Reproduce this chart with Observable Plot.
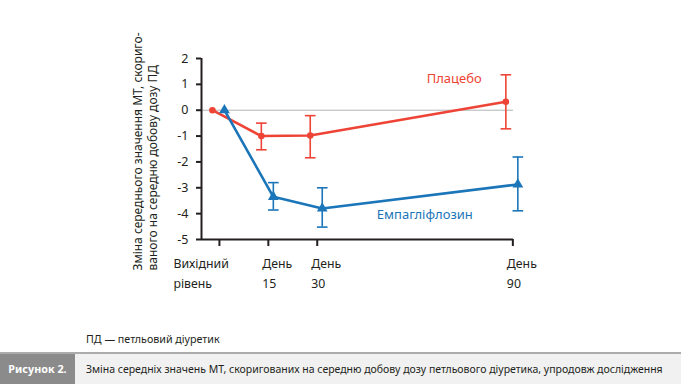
<!DOCTYPE html>
<html>
<head>
<meta charset="utf-8">
<script src="https://cdn.jsdelivr.net/npm/d3@7"></script>
<script src="https://cdn.jsdelivr.net/npm/@observablehq/plot@0.6"></script>
<style>
  html, body { margin: 0; padding: 0; background: #fff; }
  body { width: 681px; height: 384px; position: relative; overflow: hidden; font-family: "Noto Sans", sans-serif; color: #231f20; }
  #chart { position: absolute; left: 0; top: 0; }
  #note { position: absolute; left: 86px; top: 332px; font-size: 10.7px; line-height: 14px; }
  #capline { position: absolute; left: 0; top: 352px; width: 681px; height: 2px; background: #acacac; }
  #caption { position: absolute; left: 0; top: 354px; width: 681px; height: 30px; background: #f1f1f1; }
  #capnum { position: absolute; left: 0; top: 0; width: 75px; height: 30px; background: #8b8b8b; color: #fff; font-weight: bold; font-size: 10.8px; line-height: 30px; text-align: center; }
  #captext { position: absolute; left: 86px; top: 0; line-height: 30px; font-size: 10.5px; white-space: nowrap; }
</style>
</head>
<body>
<div id="chart"></div>
<div id="note">ПД — петльовий діуретик</div>
<div id="capline"></div>
<div id="caption"><div id="capnum">Рисунок 2.</div><div id="captext">Зміна середніх значень МТ, скоригованих на середню добову дозу петльового діуретика, упродовж дослідження</div></div>
<script>
const days = [0, 15, 30, 90];
const tickDays = [0, 15, 30, 90];
const tickLabelsTop = ["Вихідний", "День", "День", "День"];
const tickLabelsBottom = ["рівень", "15", "30", "90"];
const placeboMean = [0, -1.0, -0.98, 0.33];
const placeboLow = [null, -1.53, -1.84, -0.72];
const placeboHigh = [null, -0.5, -0.21, 1.37];
const empaMean = [0, -3.35, -3.8, -2.87];
const empaLow = [null, -3.86, -4.52, -3.89];
const empaHigh = [null, -2.8, -3.0, -1.81];
const yTicks = [2, 1, 0, -1, -2, -3, -4, -5];
const seriesNames = ["Плацебо", "Емпагліфлозин"];
const yLabel = "Зміна середнього значення МТ, скориго-\nваного на середню добову дозу ПД";

const red = "#ee4436";
const blue = "#1b75b9";
const ink = "#231f20";

const placebo = days.map((d, i) => ({day: d, y: placeboMean[i], lo: placeboLow[i], hi: placeboHigh[i]}));
const empa = days.map((d, i) => ({day: d, y: empaMean[i], lo: empaLow[i], hi: empaHigh[i]}));
const placeboErr = placebo.filter(d => d.lo != null);
const empaErr = empa.filter(d => d.lo != null);
const ticks = tickDays.map((d, i) => ({day: d, top: tickLabelsTop[i], bottom: tickLabelsBottom[i]}));

const capSymbol = {
  draw(ctx, size) {
    const w = Math.sqrt(size);
    ctx.moveTo(-w, 0);
    ctx.lineTo(w, 0);
  }
};

function errorMarks(data, color, dx) {
  return [
    Plot.ruleX(data, {x: "day", y1: "lo", y2: "hi", stroke: color, strokeWidth: 1.6, dx}),
    Plot.dot(data, {x: "day", y: "lo", symbol: capSymbol, r: 3, stroke: color, strokeWidth: 1.6, fill: "none", dx}),
    Plot.dot(data, {x: "day", y: "hi", symbol: capSymbol, r: 3, stroke: color, strokeWidth: 1.6, fill: "none", dx})
  ];
}

const xMin = -5.5, xMax = 90.2;
const baseTick = ticks.filter(d => d.day === 0);
const dayTicks = ticks.filter(d => d.day !== 0);

const chart = Plot.plot({
  width: 681,
  height: 330,
  marginLeft: 201,
  marginRight: 168,
  marginTop: 58,
  marginBottom: 91,
  style: {fontFamily: "Noto Sans, sans-serif", color: ink, background: "transparent"},
  x: {domain: [xMin, xMax], axis: null},
  y: {domain: [-5, 2], axis: null},
  marks: [
    Plot.ruleY([0], {x1: xMin, x2: xMax, stroke: "#b3b3b3", strokeWidth: 1}),
    // Y axis
    Plot.axisY({ticks: yTicks, tickSize: 5, tickPadding: 8, stroke: ink, strokeWidth: 2, fontSize: 12.5, fill: ink,
      tickFormat: d => d < 0 ? "-" + Math.abs(d) : String(d), label: null}),
    Plot.ruleX([xMin], {y1: -5, y2: 2, stroke: ink, strokeWidth: 2}),
    // X axis
    Plot.ruleY([-5], {x1: xMin, x2: xMax, stroke: ink, strokeWidth: 2}),
    Plot.axisX({ticks: tickDays, tickSize: 7, stroke: ink, strokeWidth: 2, tickFormat: () => "", label: null}),
    Plot.text(baseTick, {x: "day", frameAnchor: "bottom", text: "top", textAnchor: "start", dx: -46, dy: 28, fontSize: 12.3, fill: ink}),
    Plot.text(baseTick, {x: "day", frameAnchor: "bottom", text: "bottom", textAnchor: "start", dx: -46, dy: 48, fontSize: 12.3, fill: ink}),
    Plot.text(dayTicks, {x: "day", frameAnchor: "bottom", text: "top", textAnchor: "start", dx: -6, dy: 28, fontSize: 12.3, fill: ink}),
    Plot.text(dayTicks, {x: "day", frameAnchor: "bottom", text: "bottom", textAnchor: "start", dx: -6, dy: 48, fontSize: 12.3, fill: ink}),
    // Y label
    Plot.text([yLabel], {frameAnchor: "bottom-left", rotate: -90, textAnchor: "start", lineAnchor: "middle", lineHeight: 1.3, dx: -57, dy: 31, fontSize: 12, fill: ink}),
    // Placebo
    ...errorMarks(placeboErr, red, -7),
    Plot.line(placebo, {x: "day", y: "y", stroke: red, strokeWidth: 2.6, dx: -7}),
    Plot.dot(placebo, {x: "day", y: "y", r: 3.3, fill: red, dx: -7}),
    // Empagliflozin
    ...errorMarks(empaErr, blue, 5),
    Plot.line(empa, {x: "day", y: "y", stroke: blue, strokeWidth: 2.6, dx: 5}),
    Plot.dot(empa, {x: "day", y: "y", r: 4, symbol: "triangle", fill: blue, dx: 5}),
    // Series labels
    Plot.text([seriesNames[0]], {x: 72, y: 1.23, text: d => d, fill: red, fontSize: 13}),
    Plot.text([seriesNames[1]], {x: 63, y: -4.06, text: d => d, fill: blue, fontSize: 13})
  ]
});
document.getElementById("chart").appendChild(chart);
</script>
</body>
</html>
